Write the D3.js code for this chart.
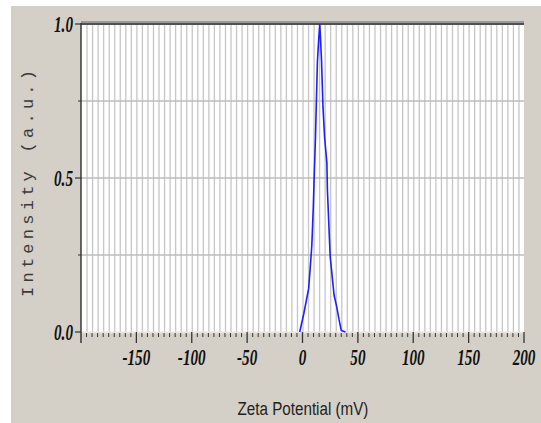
<!DOCTYPE html>
<html><head><meta charset="utf-8">
<script src="https://cdn.jsdelivr.net/npm/d3@7"></script>
<style>body{margin:0;background:#fff}svg{display:block}</style>
</head><body>
<svg id="c" width="541" height="423"></svg>
<script>
const zeta =      [-2.5, 1.2, 5.5, 6.8, 8.4, 9.7, 10.7, 11.7, 12.6, 13.5, 14.8, 15.6, 16.3, 17.2, 18.5, 20.0, 22.0, 22.5, 25.0, 28.5, 31.0, 33.0, 35.0, 38.8];
const intensity = [0, 0.06, 0.14, 0.20, 0.28, 0.40, 0.52, 0.63, 0.76, 0.88, 0.96, 1.0, 0.95, 0.88, 0.73, 0.63, 0.55, 0.46, 0.245, 0.12, 0.08, 0.04, 0.005, 0];
const xTickValues = [-150, -100, -50, 0, 50, 100, 150, 200];
const xTickLabels = ["-150", "-100", "-50", "0", "50", "100", "150", "200"];
const yTickValues = [0, 0.5, 1.0];
const yTickLabels = ["0.0", "0.5", "1.0"];
const xLabel = "Zeta Potential (mV)";
const yLabel = "Intensity (a.u.)";

const svg = d3.select("#c");
const L = 81, R = 524, T = 24, B = 332;
const x = d3.scaleLinear().domain([-200, 200]).range([L, R]);
const y = d3.scaleLinear().domain([0, 1]).range([B, T]);

// backgrounds
svg.append("rect").attr("width", 541).attr("height", 423).attr("fill", "#fff");
svg.append("rect").attr("x", 11).attr("y", 6).attr("width", 530).attr("height", 417).attr("fill", "#d4d0c8");
svg.append("rect").attr("x", L).attr("y", T).attr("width", R - L).attr("height", B - T).attr("fill", "#fff");

// vertical grid every 5 mV
const vgrid = d3.range(-195, 200, 5);
svg.append("g").selectAll("line").data(vgrid).join("line")
  .attr("x1", d => x(d) + 0.5).attr("x2", d => x(d) + 0.5)
  .attr("y1", T).attr("y2", B)
  .attr("stroke", "#c6c6c6").attr("stroke-width", 1.3);
// horizontal grid every 0.25
svg.append("g").selectAll("line").data([0.25, 0.5, 0.75]).join("line")
  .attr("x1", L).attr("x2", R)
  .attr("y1", d => y(d)).attr("y2", d => y(d))
  .attr("stroke", "#bdbdbd").attr("stroke-width", 1.6);

// bottom pale band
svg.append("line").attr("x1", L).attr("x2", R).attr("y1", B + 0.5).attr("y2", B + 0.5)
  .attr("stroke", "#e6e4de").attr("stroke-width", 2);

// top border
svg.append("rect").attr("x", L).attr("y", T - 3).attr("width", R - L).attr("height", 2).attr("fill", "#9a9a9a");
svg.append("rect").attr("x", L).attr("y", T - 1).attr("width", R - L).attr("height", 2).attr("fill", "#505050");

// curve
svg.append("path")
  .datum(zeta.map((z, i) => [z, intensity[i]]))
  .attr("d", d3.line().x(d => x(d[0])).y(d => y(d[1])))
  .attr("fill", "none").attr("stroke", "#1e1eff").attr("stroke-width", 1.6);

// left axis line
svg.append("line").attr("x1", L).attr("x2", L).attr("y1", T - 1).attr("y2", B + 11)
  .attr("stroke", "#3a3a3a").attr("stroke-width", 1.5);

// x ticks
const xMinor = d3.range(-195, 200, 5).filter(d => d % 50 !== 0);
svg.append("g").selectAll("line").data(xMinor).join("line")
  .attr("x1", d => x(d)).attr("x2", d => x(d))
  .attr("y1", B + 1).attr("y2", B + 5)
  .attr("stroke", "#333").attr("stroke-width", 1);
svg.append("g").selectAll("line").data(xTickValues).join("line")
  .attr("x1", d => x(d)).attr("x2", d => x(d))
  .attr("y1", B).attr("y2", B + 11)
  .attr("stroke", "#333").attr("stroke-width", 1.3);

// y ticks
svg.append("g").selectAll("line").data([0.25, 0.75]).join("line")
  .attr("x1", L - 3).attr("x2", L).attr("y1", d => y(d)).attr("y2", d => y(d))
  .attr("stroke", "#333").attr("stroke-width", 1);
svg.append("g").selectAll("line").data(yTickValues).join("line")
  .attr("x1", L - 6).attr("x2", L).attr("y1", d => y(d)).attr("y2", d => y(d))
  .attr("stroke", "#333").attr("stroke-width", 1.2);

const tickFont = "'Liberation Serif','Times New Roman',serif";
// x tick labels
svg.append("g").selectAll("text").data(xTickValues).join("text")
  .attr("transform", d => `translate(${x(d)},365) scale(0.66,1)`)
  .attr("text-anchor", "middle")
  .attr("font-family", tickFont).attr("font-weight", "bold").attr("font-style", "italic")
  .attr("font-size", 23).attr("fill", "#111")
  .text((d, i) => xTickLabels[i]);
// y tick labels
svg.append("g").selectAll("text").data(yTickValues).join("text")
  .attr("transform", d => `translate(73,${y(d) + 8}) scale(0.66,1)`)
  .attr("text-anchor", "end")
  .attr("font-family", tickFont).attr("font-weight", "bold").attr("font-style", "italic")
  .attr("font-size", 23).attr("fill", "#111")
  .text((d, i) => yTickLabels[i]);

// axis titles
svg.append("text")
  .attr("transform", "translate(303,415) scale(0.8,1)")
  .attr("text-anchor", "middle")
  .attr("font-family", "'Liberation Sans',Arial,sans-serif")
  .attr("font-size", 19).attr("fill", "#222")
  .text(xLabel);
svg.append("text")
  .attr("transform", "translate(33,183.5) rotate(-90)")
  .attr("text-anchor", "middle")
  .attr("font-family", "'Liberation Mono','Courier New',monospace")
  .attr("font-size", 17).attr("fill", "#3a3a3a")
  .attr("textLength", 227).attr("lengthAdjust", "spacing")
  .text(yLabel);
</script>
</body></html>
